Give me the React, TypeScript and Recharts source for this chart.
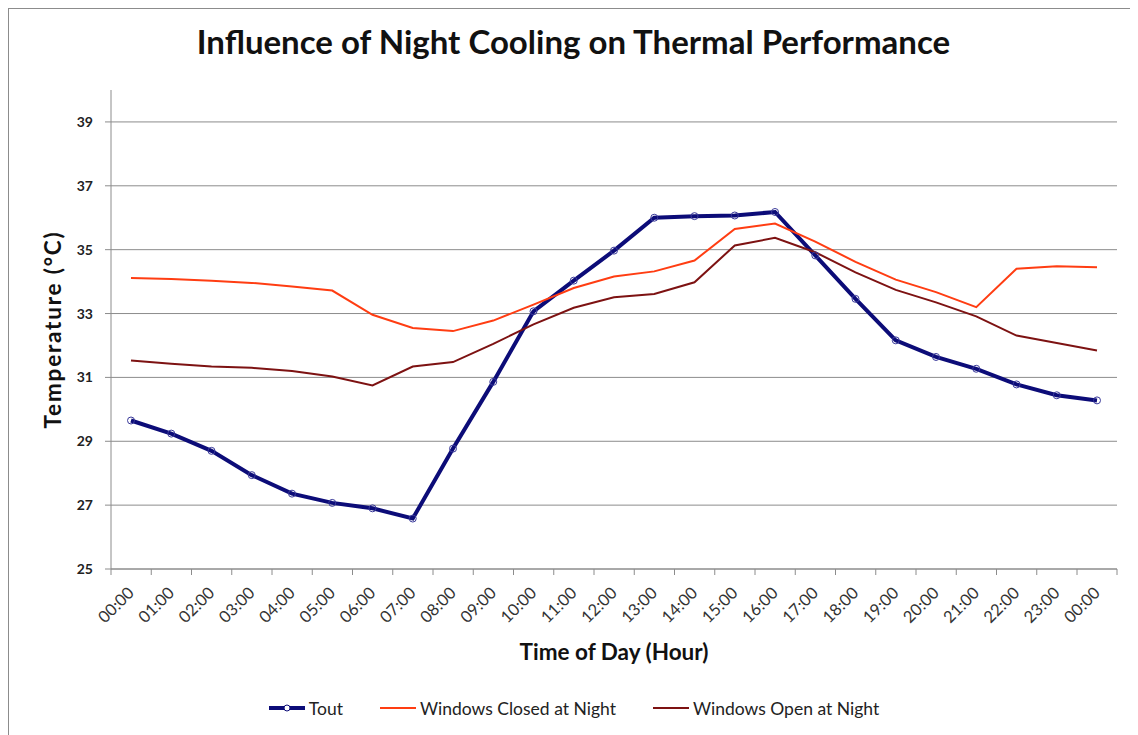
import React from 'react';
import { LineChart, Line, XAxis, YAxis, CartesianGrid, Legend } from 'recharts';

const hours = [
  '00:00', '01:00', '02:00', '03:00', '04:00', '05:00', '06:00', '07:00', '08:00', '09:00',
  '10:00', '11:00', '12:00', '13:00', '14:00', '15:00', '16:00', '17:00', '18:00', '19:00',
  '20:00', '21:00', '22:00', '23:00', '00:00',
];

const tout = [
  29.65, 29.24, 28.7, 27.94, 27.36, 27.07, 26.9, 26.58, 28.77, 30.86,
  33.07, 34.03, 34.97, 36.0, 36.05, 36.07, 36.18, 34.82, 33.46, 32.16,
  31.64, 31.27, 30.78, 30.44, 30.28,
];

const windowsClosed = [
  34.11, 34.08, 34.03, 33.96, 33.85, 33.72, 32.96, 32.55, 32.45, 32.78,
  33.28, 33.8, 34.16, 34.32, 34.66, 35.65, 35.82, 35.25, 34.62, 34.06,
  33.67, 33.2, 34.4, 34.48, 34.45,
];

const windowsOpen = [
  31.53, 31.43, 31.34, 31.3, 31.2, 31.03, 30.75, 31.34, 31.48, 32.05,
  32.66, 33.18, 33.51, 33.61, 33.98, 35.13, 35.37, 34.92, 34.29, 33.74,
  33.35, 32.91, 32.31, 32.08, 31.84,
];

const yTicks = [25, 27, 29, 31, 33, 35, 37, 39];
const yDomain = [25, 40];

const data = hours.map((h, i) => ({
  hour: h,
  tout: tout[i],
  closed: windowsClosed[i],
  open: windowsOpen[i],
}));

const FONT = "Lato, 'Open Sans', 'DejaVu Sans', sans-serif";
const AXIS_GRAY = '#8c8c8c';
const NAVY = '#0c0c78';
const ORANGE = '#ff3d12';
const DARKRED = '#7d1212';
const HALF_BAND = 20;
const X_TICK_GAP = 10;

const XTick = (props: any) => {
  const { x, y, payload, index, visibleTicksCount } = props;
  const axisY = y - X_TICK_GAP;
  const isLast = index === visibleTicksCount - 1;
  const lx = x;
  const ly = axisY + 21;
  return (
    <g>
      <line x1={x - HALF_BAND} x2={x - HALF_BAND} y1={axisY} y2={axisY + 6} stroke={AXIS_GRAY} strokeWidth={1} />
      {isLast && (
        <line x1={x + HALF_BAND} x2={x + HALF_BAND} y1={axisY} y2={axisY + 6} stroke={AXIS_GRAY} strokeWidth={1} />
      )}
      <text
        x={lx}
        y={ly}
        transform={`rotate(-45 ${lx} ${ly})`}
        textAnchor="end"
        dy="0.35em"
        fontSize={16.5}
        fontFamily={FONT}
        fill="#333"
      >
        {payload.value}
      </text>
    </g>
  );
};

const LegendContent = (props: any) => {
  const { payload } = props;
  return (
    <div
      style={{
        display: 'flex',
        justifyContent: 'center',
        alignItems: 'center',
        height: 24,
        fontFamily: FONT,
        fontSize: 17.5,
        color: '#222',
      }}
    >
      {(payload || []).map((entry: any, i: number) => {
        const isTout = entry.dataKey === 'tout';
        return (
          <div key={i} style={{ display: 'flex', alignItems: 'center', marginRight: i < 2 ? 36 : 0 }}>
            <svg width={38} height={12} style={{ marginRight: 3 }}>
              <line x1={1} x2={37} y1={6} y2={6} stroke={entry.color} strokeWidth={isTout ? 4 : 2} />
              {isTout && <circle cx={19} cy={6} r={3} fill="#fff" stroke={entry.color} strokeWidth={1} />}
            </svg>
            <span>{entry.value}</span>
          </div>
        );
      })}
    </div>
  );
};

const gridRows = (props: any) => {
  const { yAxis, offset } = props || {};
  if (yAxis && typeof yAxis.scale === 'function') {
    return yTicks.map((t) => yAxis.scale(t));
  }
  if (!offset) return [];
  const [lo, hi] = yDomain;
  return yTicks.map((t) => offset.top + (offset.height * (hi - t)) / (hi - lo));
};

export default function App() {
  return (
    <div
      style={{
        position: 'relative',
        width: 1129,
        height: 726,
        borderLeft: `1px solid ${AXIS_GRAY}`,
        borderTop: `1px solid ${AXIS_GRAY}`,
        background: '#fff',
      }}
    >
      <div
        style={{
          position: 'absolute',
          top: 16,
          left: 0,
          width: 1129,
          textAlign: 'center',
          fontFamily: FONT,
          fontWeight: 'bold',
          fontSize: 33,
          lineHeight: '33px',
          color: '#111',
        }}
      >
        Influence of Night Cooling on Thermal Performance
      </div>
      <LineChart
        width={1129}
        height={726}
        data={data}
        margin={{ top: 81, right: 21, left: 40, bottom: 15 }}
      >
        <CartesianGrid
          vertical={false}
          stroke={AXIS_GRAY}
          strokeWidth={1}
          horizontalCoordinatesGenerator={gridRows}
        />
        <XAxis
          dataKey="hour"
          interval={0}
          padding={{ left: HALF_BAND, right: HALF_BAND }}
          height={127}
          tickLine={false}
          tickSize={0}
          tickMargin={X_TICK_GAP}
          axisLine={{ stroke: AXIS_GRAY }}
          tick={<XTick />}
          label={{
            value: 'Time of Day (Hour)',
            position: 'insideBottom',
            offset: 36,
            style: { fontFamily: FONT, fontWeight: 'bold', fontSize: 22.5, fill: '#111' },
          }}
        />
        <YAxis
          width={62}
          domain={yDomain}
          ticks={yTicks}
          interval={0}
          allowDataOverflow
          tickSize={6}
          tickMargin={12}
          axisLine={{ stroke: AXIS_GRAY }}
          tickLine={{ stroke: AXIS_GRAY }}
          tick={{ fill: '#222', fontSize: 14, fontWeight: 'bold', fontFamily: FONT }}
          label={{
            value: 'Temperature (°C)',
            angle: -90,
            position: 'insideLeft',
            offset: 4,
            style: {
              fontFamily: FONT,
              fontWeight: 'bold',
              fontSize: 22.5,
              letterSpacing: 1.8,
              fill: '#111',
              textAnchor: 'middle',
            },
          }}
        />
        <Legend
          verticalAlign="bottom"
          content={<LegendContent />}
          wrapperStyle={{ left: 0, width: 1129, height: 24 }}
        />
        <Line
          type="linear"
          dataKey="tout"
          name="Tout"
          stroke={NAVY}
          strokeWidth={4}
          dot={{ r: 3.5, fill: 'none', stroke: '#3a3a9a', strokeWidth: 1 }}
          isAnimationActive={false}
        />
        <Line
          type="linear"
          dataKey="closed"
          name="Windows Closed at Night"
          stroke={ORANGE}
          strokeWidth={2}
          dot={false}
          isAnimationActive={false}
        />
        <Line
          type="linear"
          dataKey="open"
          name="Windows Open at Night"
          stroke={DARKRED}
          strokeWidth={2}
          dot={false}
          isAnimationActive={false}
        />
      </LineChart>
    </div>
  );
}
